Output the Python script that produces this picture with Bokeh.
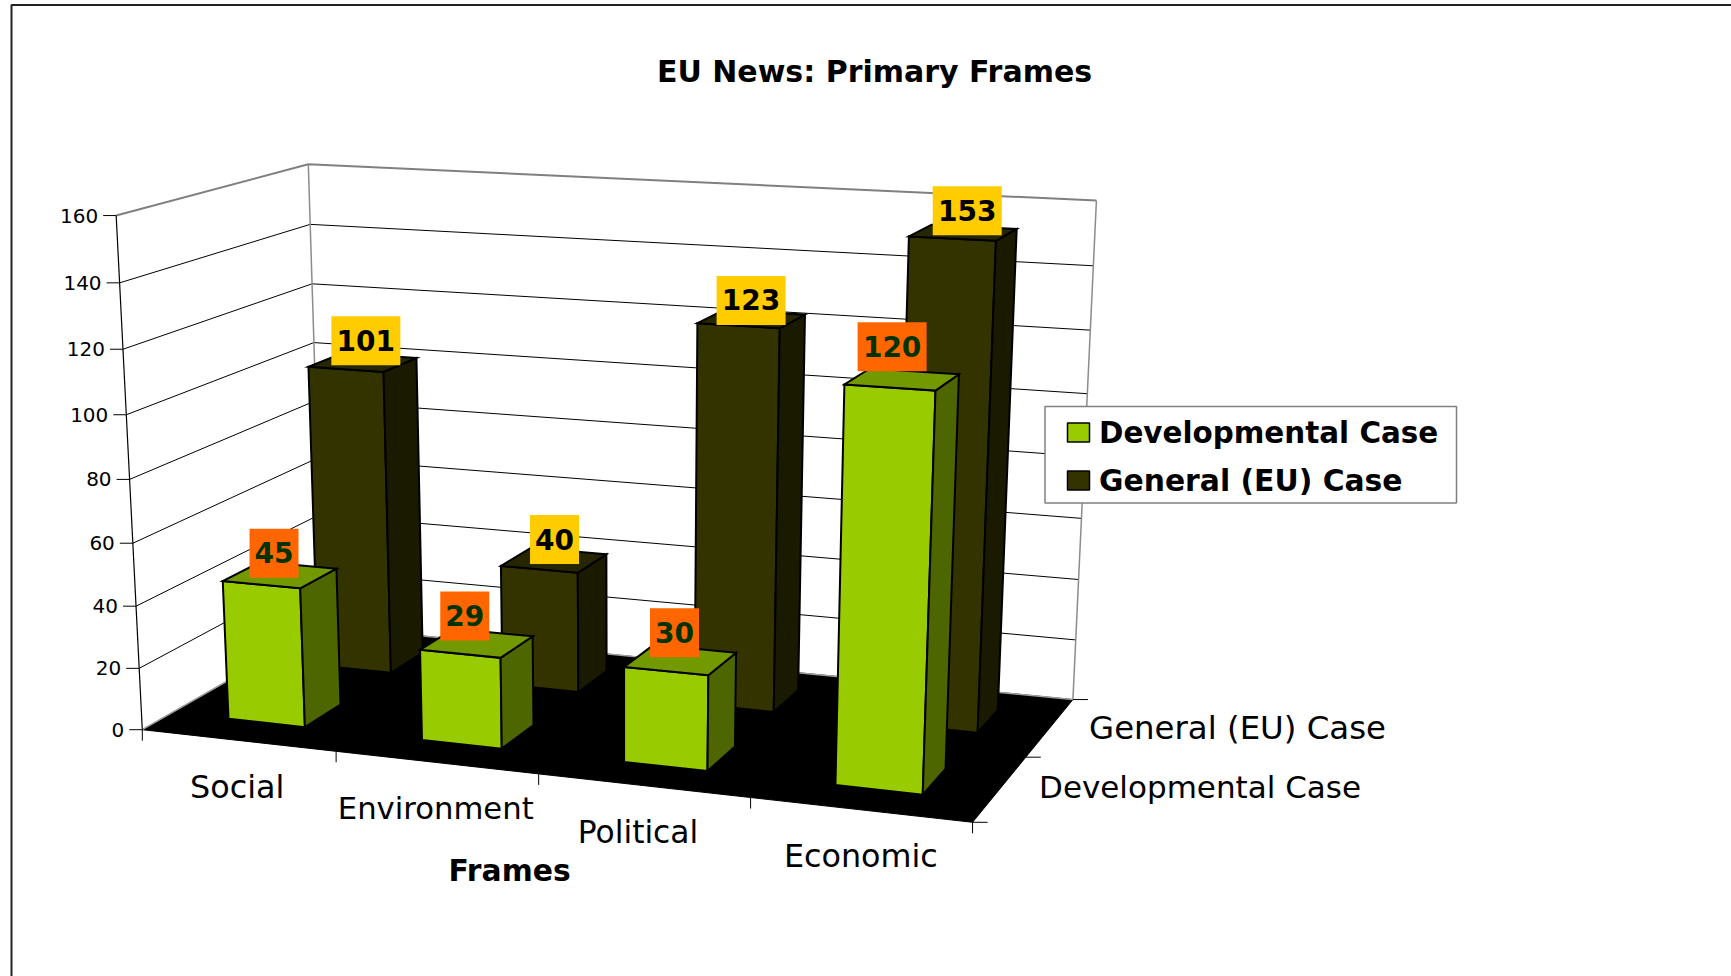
import numpy as np
from bokeh.plotting import figure
from bokeh.models import Range1d, ColumnDataSource
from bokeh.core.properties import value
from bokeh.embed import file_html
from bokeh.resources import INLINE

categories = ["Social", "Environment", "Political", "Economic"]
series_names = ["Developmental Case", "General (EU) Case"]
developmental = [45, 29, 30, 120]
general = [101, 40, 123, 153]
value_ticks = [0, 20, 40, 60, 80, 100, 120, 140, 160]
title_text = "EU News: Primary Frames"
x_title = "Frames"

front_cols = ["#99CC00", "#333300"]
top_cols = ["#739900", "#262600"]
side_cols = ["#4D6600", "#1A1A00"]
label_fill = ["#FF6600", "#FFCC00"]
label_ink = ["#003300", "#000000"]
FONT = "DejaVu Sans"

# Small per-label nudges and font sizes, in pixels
label_nudge_x = [[-6, -12, -6, -10], [3, 0.5, -0.5, 4]]
label_nudge_y = [[3, -2.5, -2.5, -8], [3, 4, 6, 2.5]]
cat_nudge_x = [-1, -0.5, -5.4, 0.6]
cat_sizes = ["31.8px", "30.7px", "31.3px", "31.8px"]
depth_sizes = ["31px", "32.4px"]
depth_nudge_y = [-1.5, 0]
legend_sizes = ["29.4px", "29.8px"]

# Camera calibration: model point (category, depth, value) -> page pixel
calib_model = [(0,0,0),(1,0,0),(2,0,0),(3,0,0),(4,0,0),(4,1,0),(4,2,0),(0,2,0),
               (0,0,40),(0,0,80),(0,0,120),(0,0,160),(0,2,160),(4,2,160),(0,2,100)]
calib_page = [(140,729.0),(335.4,751.7),(538.2,774),(750.5,797.7),(971.0,820.8),(1026,756.4),
              (1072,699.3),(324.5,624.8),(135.4,605.5),(129,479),(124,348.5),(116.7,214.5),
              (306,164),(1096.4,200),(312.6,342.7)]
rows, rhs = [], []
for (X, Z, Y), (u, v) in zip(calib_model, calib_page):
    rows.append([X, Z, Y, 1, 0, 0, 0, 0, -u*X, -u*Z, -u*Y]); rhs.append(u)
    rows.append([0, 0, 0, 0, X, Z, Y, 1, -v*X, -v*Z, -v*Y]); rhs.append(v)
rows = np.array(rows, float)
scale_cols = np.array([1, 1, 100, 1, 1, 1, 100, 1, 1, 1, 100], float)
cam = np.linalg.lstsq(rows * scale_cols, np.array(rhs), rcond=None)[0] * scale_cols

def proj(X, Z, Y):
    w = cam[8]*X + cam[9]*Z + cam[10]*Y + 1
    return ((cam[0]*X + cam[1]*Z + cam[2]*Y + cam[3]) / w,
            (cam[4]*X + cam[5]*Z + cam[6]*Y + cam[7]) / w)

def poly(pts):
    q = [proj(*a) for a in pts]
    return [a[0] for a in q], [a[1] for a in q]

p = figure(width=1731, height=976, x_range=Range1d(0, 1731), y_range=Range1d(976, 0),
           output_backend="svg", toolbar_location=None, x_axis_location=None,
           y_axis_location=None, min_border=0, background_fill_color="white",
           outline_line_color=None)
p.grid.visible = False

# chart-area border
p.line([11, 11, 1731], [976, 4.5, 4.5], line_color="#222222", line_width=2)

# floor
fx, fy = poly([(0,0,0),(4,0,0),(4,2,0),(0,2,0)])
p.patch(fx, fy, fill_color="#000000", line_color="#000000", line_width=1)
ex, ey = poly([(0,0,0),(0,2,0),(4,2,0)])
p.line(ex, ey, line_color="#A0A0A0", line_width=1.5)

# gridlines
gx, gy = [], []
for v in value_ticks[1:-1]:
    a, b = poly([(0,0,v),(0,2,v),(4,2,v)])
    gx.append(a); gy.append(b)
p.multi_line(gx, gy, line_color="#000000", line_width=1)

# wall edges
a, b = poly([(0,0,160),(0,2,160),(4,2,160)])
p.line(a, b, line_color="#808080", line_width=2)
for X in (0, 4):
    a, b = poly([(X,2,0),(X,2,160)])
    p.line(a, b, line_color="#8C8C8C", line_width=1.5)
a, b = poly([(0,0,0),(0,0,160)])
p.line(a, b, line_color="#000000", line_width=1.2)

# ticks and tick labels
tx, ty = [], []
lab_x, lab_y, lab_t = [], [], []
for v in value_ticks:
    u, w = proj(0, 0, v)
    tx.append([u-13, u]); ty.append([w, w])
    lab_x.append(u-18); lab_y.append(w); lab_t.append(str(v))
for i in range(len(categories)+1):
    u, w = proj(i, 0, 0)
    tx.append([u, u]); ty.append([w, w+11])
for z in range(len(series_names)+1):
    u, w = proj(4, z, 0)
    tx.append([u, u+15]); ty.append([w, w])
p.multi_line(tx, ty, line_color="#000000", line_width=1)
p.text(lab_x, lab_y, text=lab_t, text_align="right", text_baseline="middle",
       text_font=value(FONT), text_font_size=value("20px"), text_color="#000000")

cx, cy = zip(*[proj(i+.5, 0, 0) for i in range(len(categories))])
cat_src = ColumnDataSource(dict(x=[a+n for a, n in zip(cx, cat_nudge_x)], y=[b+46 for b in cy],
                                t=categories, s=cat_sizes))
p.text("x", "y", text="t", text_font_size="s", source=cat_src, text_align="center",
       text_baseline="middle", text_font=value(FONT), text_color="#000000")
dx, dy = zip(*[proj(4, z+.5, 0) for z in range(len(series_names))])
dep_src = ColumnDataSource(dict(x=[a+39 for a in dx], y=[b+n for b, n in zip(dy, depth_nudge_y)],
                                t=series_names, s=depth_sizes))
p.text("x", "y", text="t", text_font_size="s", source=dep_src, text_align="left",
       text_baseline="middle", text_font=value(FONT), text_color="#000000")

# bars, far row first
BW, BD = 0.4, 0.4
bars = [developmental, general]
for s in (1, 0):
    for i, v in enumerate(bars[s]):
        x0, x1 = i+.5-BW/2, i+.5+BW/2
        z0, z1 = s+.5-BD/2, s+.5+BD/2
        faces = [
            ([(x0,z0,0),(x1,z0,0),(x1,z0,v),(x0,z0,v)], front_cols[s]),
            ([(x1,z0,0),(x1,z1,0),(x1,z1,v),(x1,z0,v)], side_cols[s]),
            ([(x0,z0,v),(x1,z0,v),(x1,z1,v),(x0,z1,v)], top_cols[s]),
        ]
        xs, ys, cs = [], [], []
        for pts, c in faces:
            a, b = poly(pts); xs.append(a); ys.append(b); cs.append(c)
        p.patches(xs, ys, fill_color=cs, line_color="#000000", line_width=2, line_join="miter")

# data labels
for s in (1, 0):
    for i, v in enumerate(bars[s]):
        u, w = proj(i+.5, s+.5, v)
        t = str(v)
        half = 34.5 if len(t) == 3 else 24.5
        c = u + label_nudge_x[s][i]
        bottom = w + label_nudge_y[s][i]
        p.quad(left=[c-half], right=[c+half], bottom=[bottom], top=[bottom-49],
               fill_color=label_fill[s], line_color=None)
        p.text([c], [bottom-25], text=[t], text_align="center", text_baseline="middle",
               text_font=value(FONT), text_font_size=value("28px"), text_font_style="bold",
               text_color=label_ink[s])

# legend
p.quad(left=[1044.5], right=[1456], top=[406], bottom=[502.5], fill_color="white",
       line_color="#808080", line_width=1.5)
for s, yc in enumerate([432, 480]):
    p.quad(left=[1067], right=[1089], top=[yc-9.5], bottom=[yc+9.5], fill_color=front_cols[s],
           line_color="#000000", line_width=1.5)
    p.text([1098.5], [yc], text=[series_names[s]], text_align="left", text_baseline="middle",
           text_font=value(FONT), text_font_size=value(legend_sizes[s]), text_font_style="bold", text_color="#000000")

# titles
p.text([874], [71], text=[title_text], text_align="center", text_baseline="middle",
       text_font=value(FONT), text_font_size=value("30px"), text_font_style="bold", text_color="#000000")
p.text([509], [870], text=[x_title], text_align="center", text_baseline="middle",
       text_font=value(FONT), text_font_size=value("29.8px"), text_font_style="bold", text_color="#000000")

open("out.html", "w").write(file_html(p, INLINE))
